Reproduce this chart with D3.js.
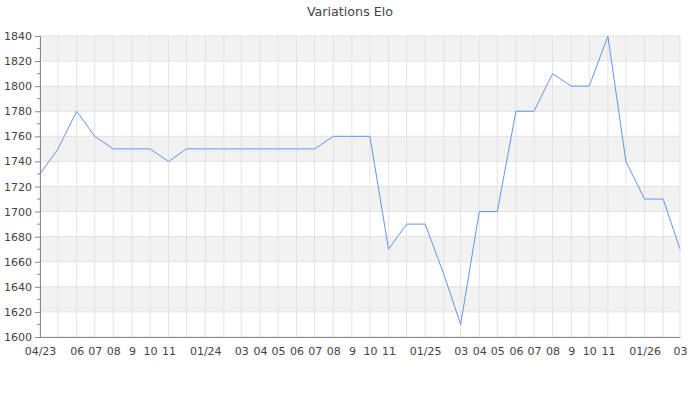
<!DOCTYPE html>
<html>
<head>
<meta charset="utf-8">
<script src="https://cdn.jsdelivr.net/npm/d3@7"></script>
<style>
  body { margin: 0; background: #fff; }
  svg text { font-family: "DejaVu Sans", sans-serif; fill: #444; }
</style>
</head>
<body>
<svg width="700" height="400"></svg>
<script>
// données : un point par mois
var months = ["2023-04","2023-05","2023-06","2023-07","2023-08","2023-09","2023-10","2023-11","2023-12",
  "2024-01","2024-02","2024-03","2024-04","2024-05","2024-06","2024-07","2024-08","2024-09","2024-10","2024-11","2024-12",
  "2025-01","2025-02","2025-03","2025-04","2025-05","2025-06","2025-07","2025-08","2025-09","2025-10","2025-11","2025-12",
  "2026-01","2026-02","2026-03"];
var elo = [1730,1750,1780,1760,1750,1750,1750,1740,1750,
  1750,1750,1750,1750,1750,1750,1750,1760,1760,1760,1670,1690,
  1690,1650,1610,1700,1700,1780,1780,1810,1800,1800,1840,1740,
  1710,1710,1670];
// libellés de l'axe x (vide = masqué)
var monthLabels = ["04/23","","06","07","08","9","10","11","",
  "01/24","","03","04","05","06","07","08","9","10","11","",
  "01/25","","03","04","05","06","07","08","9","10","11","",
  "01/26","","03"];
var yTicks = [1600,1620,1640,1660,1680,1700,1720,1740,1760,1780,1800,1820,1840];

var svg = d3.select("svg");
var parseMonth = d3.timeParse("%Y-%m");
var dates = months.map(parseMonth);

// marges de la zone de tracé
var mLeft = 40, mRight = 680, mTop = 36, mBottom = 337;

var x = d3.scaleTime().domain(d3.extent(dates)).range([mLeft, mRight]);
var y = d3.scaleLinear().domain([1600, 1840]).range([mBottom, mTop]);

// bandes alternées
var bands = d3.range(0, yTicks.length - 1).filter(i => i % 2 == 1);
svg.append("g").selectAll("rect")
  .data(bands)
  .enter()
  .append("rect")
    .attr("x", mLeft)
    .attr("width", mRight - mLeft)
    .attr("y", i => y(yTicks[i + 1]))
    .attr("height", i => y(yTicks[i]) - y(yTicks[i + 1]))
    .attr("fill", "#f2f2f2");

// grille horizontale
svg.append("g").selectAll("line")
  .data(yTicks)
  .enter()
  .append("line")
    .attr("x1", mLeft).attr("x2", mRight)
    .attr("y1", d => y(d)).attr("y2", d => y(d))
    .attr("stroke", "#e2e2e2");

// grille verticale
svg.append("g").selectAll("line")
  .data(dates)
  .enter()
  .append("line")
    .attr("x1", d => x(d)).attr("x2", d => x(d))
    .attr("y1", mTop).attr("y2", mBottom)
    .attr("stroke", "#e2e2e2");

// axe y
var yAxis = d3.axisLeft(y).tickValues(yTicks).tickSize(5).tickPadding(3).tickFormat(d3.format("d"));
var gy = svg.append("g").attr("transform", "translate(" + mLeft + ",0)").call(yAxis);
gy.select(".domain").attr("stroke", "#888");
gy.selectAll(".tick line").attr("stroke", "#888");
gy.selectAll("text").style("font-size", "11px").attr("fill", "#444");

// petites graduations
var minor = yTicks.slice(0, -1).map(d => d + 10);
svg.append("g").selectAll("line")
  .data(minor)
  .enter()
  .append("line")
    .attr("x1", mLeft - 3).attr("x2", mLeft)
    .attr("y1", d => y(d)).attr("y2", d => y(d))
    .attr("stroke", "#888");

// axe x
var xAxis = d3.axisBottom(x).tickValues(dates).tickSize(0).tickPadding(10)
  .tickFormat((d, i) => monthLabels[i]);
var gx = svg.append("g").attr("transform", "translate(0," + mBottom + ")").call(xAxis);
gx.select(".domain").attr("stroke", "#888");
gx.selectAll("text").style("font-size", "11px").attr("fill", "#444");

// courbe
var line = d3.line().x((d, i) => x(dates[i])).y(d => y(d));
svg.append("path")
  .datum(elo)
  .attr("d", line)
  .attr("fill", "none")
  .attr("stroke", "#6495ed")
  .attr("stroke-width", 1);

// titre
svg.append("text")
  .attr("x", 350).attr("y", 16)
  .attr("text-anchor", "middle")
  .style("font-size", "12.7px")
  .text("Variations Elo");
</script>
</body>
</html>
